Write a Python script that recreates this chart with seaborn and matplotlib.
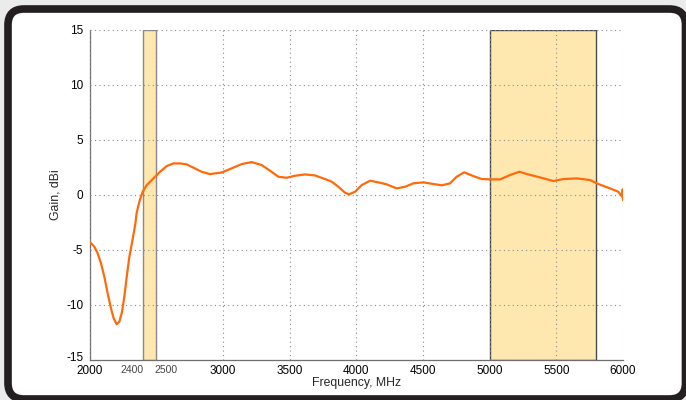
import numpy as np
import pandas as pd
import matplotlib
matplotlib.use("Agg")
import matplotlib.pyplot as plt
import matplotlib.transforms as mtransforms
from matplotlib.patches import FancyBboxPatch
import seaborn as sns

freq = [2000, 2036, 2061, 2086, 2111, 2136, 2161, 2181, 2204, 2224, 2244, 2261,
        2279, 2299, 2324, 2344, 2354, 2379, 2399, 2429, 2479, 2529, 2579, 2629,
        2679, 2729, 2779, 2841, 2903, 2991, 3066, 3141, 3216, 3291, 3353, 3416,
        3478, 3541, 3616, 3691, 3766, 3816, 3866, 3916, 3946, 3991, 4041, 4103,
        4166, 4228, 4303, 4366, 4428, 4503, 4578, 4641, 4703, 4753, 4810, 4878,
        4941, 5003, 5078, 5153, 5223, 5290, 5378, 5478, 5553, 5653, 5753, 5815,
        5903, 5965, 5995, 5998, 6000]
gain = [-4.26, -4.71, -5.32, -6.22, -7.44, -8.95, -10.31, -11.22, -11.76, -11.52,
        -10.61, -9.25, -7.44, -5.62, -4.0, -2.6, -1.6, -0.4, 0.28, 0.88,
        1.49, 2.09, 2.61, 2.85, 2.85, 2.76, 2.46, 2.09, 1.88, 2.03,
        2.40, 2.79, 2.97, 2.70, 2.19, 1.64, 1.55, 1.73, 1.85, 1.76,
        1.43, 1.19, 0.73, 0.19, 0.04, 0.28, 0.88, 1.28, 1.13, 0.95,
        0.58, 0.73, 1.04, 1.13, 0.98, 0.86, 1.04, 1.64, 2.04, 1.70,
        1.43, 1.40, 1.40, 1.79, 2.09, 1.85, 1.58, 1.25, 1.43, 1.49,
        1.34, 0.98, 0.58, 0.28, -0.18, 0.5, -0.48]

bands = [(2400, 2500), (5000, 5800)]
xticks = [2000, 2400, 2500, 3000, 3500, 4000, 4500, 5000, 5500, 6000]
yticks = [-15, -10, -5, 0, 5, 10, 15]

df = pd.DataFrame({"freq": freq, "gain": gain})

sns.set_style("white")
plt.rcParams["font.family"] = ["Liberation Sans", "DejaVu Sans"]
plt.rcParams["axes.unicode_minus"] = False

fig = plt.figure(figsize=(6.86, 4.0), dpi=100, facecolor="#ebebeb")

# rounded dark frame around the plot (drawn under the axes)
frame = FancyBboxPatch((8, 1), 677.5, 390, boxstyle="round,pad=0,rounding_size=16",
                       facecolor="white", edgecolor="#231f20", linewidth=5.5,
                       transform=mtransforms.IdentityTransform(), zorder=-5)
fig.patches.append(frame)

ax = fig.add_axes([0.1305, 0.1, 0.7776, 0.826])
ax.set_facecolor("none")

ax.axvspan(bands[0][0], bands[0][1], facecolor="#ffe8b0", edgecolor="#8a8a8a",
           linewidth=1.0, zorder=1)
ax.axvspan(bands[1][0], bands[1][1], facecolor="#ffe8b0", edgecolor="#4a4a4a",
           linewidth=1.0, zorder=1)

sns.lineplot(data=df, x="freq", y="gain", color="#ff6a0a", linewidth=1.6,
             ax=ax, zorder=3, sort=False)

ax.set_xlim(2000, 6000)
ax.set_ylim(-15, 15)
ax.set_xticks(xticks)
ax.set_yticks(yticks)
ax.set_xticklabels([str(t) for t in xticks])
ax.grid(True, color="#8c8c8c", linestyle=(0, (1, 3)), linewidth=0.8, zorder=2)
ax.set_axisbelow(False)

for s in ["top", "right"]:
    ax.spines[s].set_visible(False)
for s in ["left", "bottom"]:
    ax.spines[s].set_color("#6e6e6e")
    ax.spines[s].set_linewidth(0.9)

ax.tick_params(direction="in", length=3, width=0.6, color="#6e6e6e",
               labelsize=8.5, labelcolor="black")
ax.tick_params(axis="x", pad=3.4)
ax.tick_params(axis="y", pad=4.5)

# move the crowded 2400 / 2500 labels apart
shifts = {"2400": -8, "2500": 7}
for lab in ax.get_xticklabels():
    if lab.get_text() in shifts:
        dx = shifts[lab.get_text()] / 72.0
        lab.set_transform(lab.get_transform() +
                          mtransforms.ScaledTranslation(dx, 0, fig.dpi_scale_trans))
        lab.set_color("#444444")
        lab.set_fontsize(7.5)

# lift -15 a little so it clears the 2000 label
for lab in ax.get_yticklabels():
    if lab.get_text() == "-15":
        lab.set_transform(lab.get_transform() +
                          mtransforms.ScaledTranslation(0, 2.5 / 72.0, fig.dpi_scale_trans))

ax.set_xlabel("Frequency, MHz", fontsize=8.8, labelpad=0)
ax.set_ylabel("Gain, dBi", fontsize=8.8, labelpad=3)

fig.savefig("out.png", dpi=100, facecolor=fig.get_facecolor())
